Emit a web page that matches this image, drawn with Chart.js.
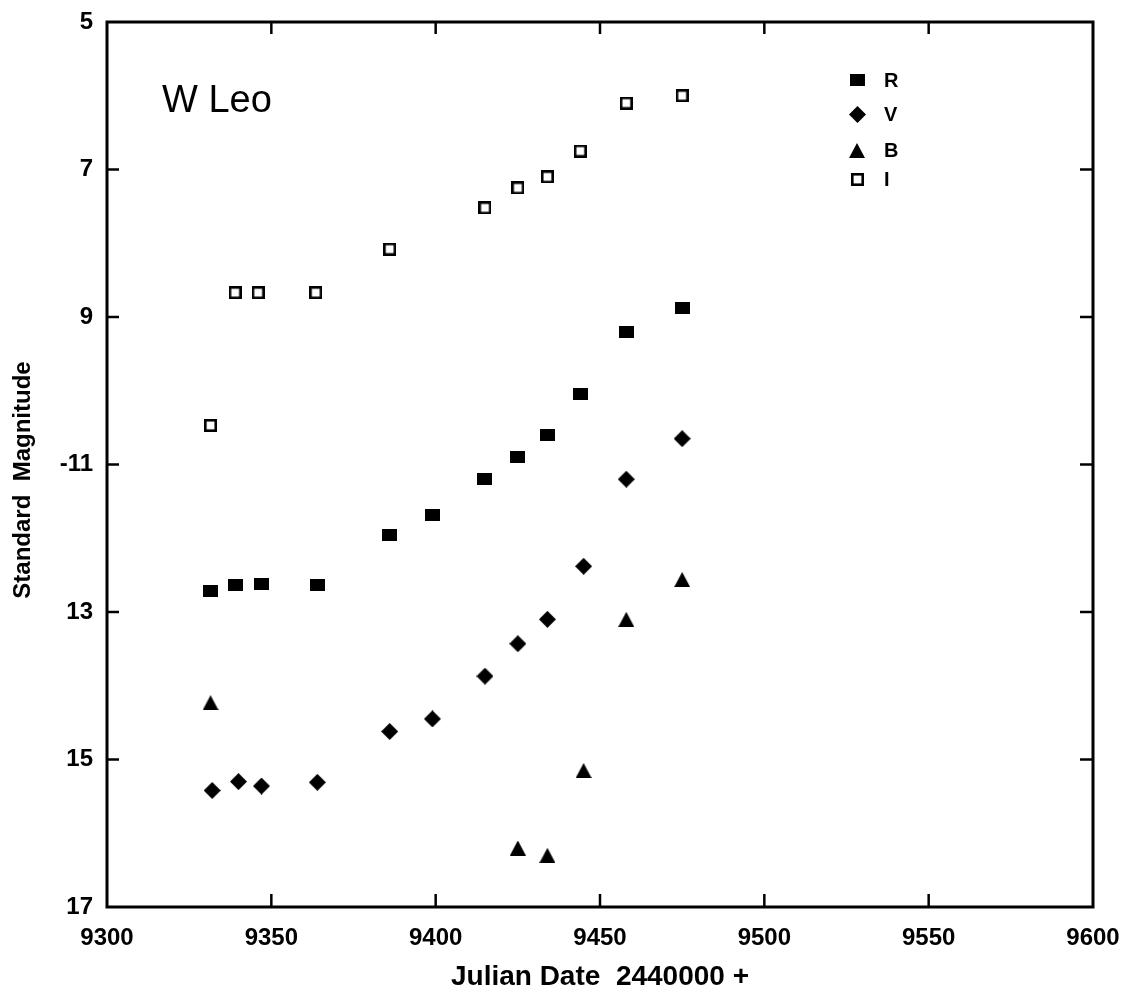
<!DOCTYPE html>
<html><head><meta charset="utf-8">
<script src="https://cdn.jsdelivr.net/npm/chart.js@4"></script>
<style>html,body{margin:0;padding:0;background:#fff}</style>
</head><body>
<canvas id="c" width="1127" height="988" style="display:block"></canvas>
<script>
// ---- data ----
const xTickValues = [9300, 9350, 9400, 9450, 9500, 9550, 9600];
const yTickValues = [5, 7, 9, 11, 13, 15, 17];
const yTickLabels = ['5', '7', '9', '-11', '13', '15', '17'];
const seriesNames = ['R', 'V', 'B', 'I'];

const rDates = [9331.5, 9339, 9347, 9364, 9386, 9399, 9415, 9425, 9434, 9444, 9458, 9475];
const rMags  = [12.72, 12.63, 12.62, 12.63, 11.95, 11.68, 11.2, 10.9, 10.6, 10.05, 9.2, 8.88];
const vDates = [9332, 9340, 9347, 9364, 9386, 9399, 9415, 9425, 9434, 9445, 9458, 9475];
const vMags  = [15.42, 15.3, 15.36, 15.31, 14.62, 14.45, 13.87, 13.43, 13.1, 12.38, 11.2, 10.65];
const bDates = [9331.5, 9425, 9434, 9445, 9458, 9475];
const bMags  = [14.23, 16.2, 16.3, 15.15, 13.1, 12.56];
const iDates = [9331.5, 9339, 9346, 9363.5, 9386, 9415, 9425, 9434, 9444, 9458, 9475];
const iMags  = [10.47, 8.67, 8.67, 8.67, 8.08, 7.52, 7.25, 7.1, 6.75, 6.1, 6.0];

const FONT = "'Liberation Sans', Arial, Helvetica, sans-serif";

// ---- marker images ----
function mk(w, h, draw) {
  const c = document.createElement('canvas');
  c.width = w; c.height = h;
  const g = c.getContext('2d');
  g.fillStyle = '#000'; g.strokeStyle = '#000';
  draw(g, w, h);
  return c;
}
const mR = mk(15, 12, (g, w, h) => { g.fillRect(0, 0, w, h); });
const mV = mk(17, 17, (g, w, h) => { g.beginPath(); g.moveTo(w/2, 0); g.lineTo(w, h/2); g.lineTo(w/2, h); g.lineTo(0, h/2); g.closePath(); g.fill(); });
const mB = mk(16, 15, (g, w, h) => { g.beginPath(); g.moveTo(w/2, 0); g.lineTo(w, h); g.lineTo(0, h); g.closePath(); g.fill(); });
const mI = mk(13, 13, (g, w, h) => { g.lineWidth = 2.6; g.strokeRect(1.3, 1.3, w - 2.6, h - 2.6); });
const markers = [mR, mV, mB, mI];

function pts(xs, ys) { return xs.map((x, i) => ({ x, y: ys[i] })); }

const datasets = [
  { label: seriesNames[0], data: pts(rDates, rMags), pointStyle: mR },
  { label: seriesNames[1], data: pts(vDates, vMags), pointStyle: mV },
  { label: seriesNames[2], data: pts(bDates, bMags), pointStyle: mB },
  { label: seriesNames[3], data: pts(iDates, iMags), pointStyle: mI },
].map(d => Object.assign(d, { showLine: false, borderColor: '#000', backgroundColor: '#000' }));

const framePlugin = {
  id: 'frame',
  afterDraw(chart) {
    const { ctx, chartArea: a, scales: { x, y } } = chart;
    ctx.save();
    ctx.strokeStyle = '#000';
    ctx.lineCap = 'square';
    ctx.lineWidth = 3;
    ctx.strokeRect(a.left, a.top, a.right - a.left, a.bottom - a.top);
    ctx.lineWidth = 2.5;
    ctx.lineCap = 'butt';
    const line = (x1, y1, x2, y2) => { ctx.beginPath(); ctx.moveTo(x1, y1); ctx.lineTo(x2, y2); ctx.stroke(); };
    xTickValues.slice(1, -1).forEach(v => {
      const px = x.getPixelForValue(v);
      line(px, a.bottom, px, a.bottom - 13);
      line(px, a.top, px, a.top + 12);
    });
    yTickValues.slice(1, -1).forEach(v => {
      const py = y.getPixelForValue(v);
      line(a.left, py, a.left + 12, py);
      line(a.right, py, a.right - 13, py);
    });
    ctx.fillStyle = '#000';
    // y axis title
    ctx.save();
    ctx.translate(23, 480);
    ctx.rotate(-Math.PI / 2);
    ctx.font = `bold 24px ${FONT}`;
    ctx.textAlign = 'center';
    ctx.textBaseline = 'middle';
    ctx.fillText('Standard  Magnitude', 0, 0);
    ctx.restore();
    // star name
    ctx.font = `38px ${FONT}`;
    ctx.textBaseline = 'alphabetic';
    ctx.textAlign = 'left';
    ctx.fillText('W Leo', 162, 112);
    // legend
    const rows = [80, 114, 150, 179];
    ctx.font = `bold 20px ${FONT}`;
    ctx.textBaseline = 'middle';
    chart.data.datasets.forEach((d, i) => {
      const m = markers[i];
      ctx.drawImage(m, Math.round(857 - m.width / 2), Math.round(rows[i] - m.height / 2));
      ctx.fillText(d.label, 884, rows[i] + 1);
    });
    ctx.restore();
  }
};

new Chart(document.getElementById('c'), {
  type: 'scatter',
  data: { datasets },
  options: {
    responsive: false,
    animation: false,
    devicePixelRatio: 1,
    layout: { padding: { left: 0, right: 34, top: 22, bottom: 0 } },
    plugins: { legend: { display: false }, tooltip: { enabled: false } },
    elements: { point: { radius: 8, hoverRadius: 8 } },
    scales: {
      x: {
        type: 'linear', min: 9300, max: 9600,
        afterBuildTicks: s => { s.ticks = xTickValues.map(v => ({ value: v })); },
        afterFit: s => { s.height = 81; s.paddingLeft = 0; s.paddingRight = 0; },
        grid: { display: false, drawTicks: false },
        border: { display: false },
        ticks: { color: '#000', font: { family: FONT, size: 24, weight: 'bold' }, padding: 17, maxRotation: 0, autoSkip: false, callback: v => String(v) },
        title: { display: true, text: 'Julian Date  2440000 +', color: '#000', font: { family: FONT, size: 28, weight: 'bold' }, padding: { top: 0, bottom: -6 } }
      },
      y: {
        type: 'linear', min: 5, max: 17, reverse: true,
        afterBuildTicks: s => { s.ticks = yTickValues.map(v => ({ value: v })); },
        afterFit: s => { s.width = 107; s.paddingTop = 0; s.paddingBottom = 0; },
        grid: { display: false, drawTicks: false },
        border: { display: false },
        ticks: { color: '#000', font: { family: FONT, size: 24, weight: 'bold' }, padding: 14, autoSkip: false,
                 callback: v => yTickLabels[yTickValues.indexOf(v)] },
        title: { display: false }
      }
    }
  },
  plugins: [framePlugin]
});
</script>
</body></html>
